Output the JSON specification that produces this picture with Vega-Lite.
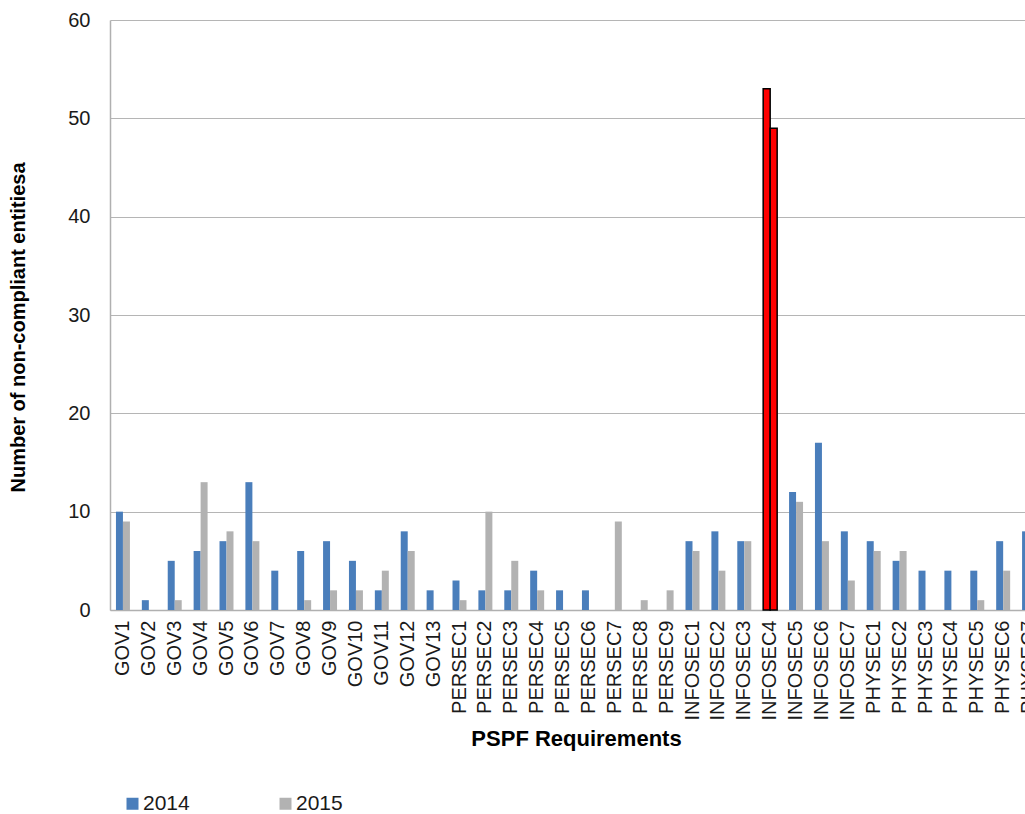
{
  "$schema": "https://vega.github.io/schema/vega-lite/v6.json",
  "autosize": "none",
  "padding": {"left": 110, "top": 20, "right": 0, "bottom": 204},
  "width": 932,
  "height": 590,
  "background": "white",
  "config": {
    "font": "Liberation Sans",
    "view": {"stroke": null},
    "axis": {"labelFont": "Liberation Sans", "titleFont": "Liberation Sans", "labelColor": "#1a1a1a", "titleColor": "#000000"}
  },
  "data": {
    "values": [
      {"req": "GOV1", "year": "2014", "count": 10}, {"req": "GOV1", "year": "2015", "count": 9},
      {"req": "GOV2", "year": "2014", "count": 1}, {"req": "GOV2", "year": "2015", "count": 0},
      {"req": "GOV3", "year": "2014", "count": 5}, {"req": "GOV3", "year": "2015", "count": 1},
      {"req": "GOV4", "year": "2014", "count": 6}, {"req": "GOV4", "year": "2015", "count": 13},
      {"req": "GOV5", "year": "2014", "count": 7}, {"req": "GOV5", "year": "2015", "count": 8},
      {"req": "GOV6", "year": "2014", "count": 13}, {"req": "GOV6", "year": "2015", "count": 7},
      {"req": "GOV7", "year": "2014", "count": 4}, {"req": "GOV7", "year": "2015", "count": 0},
      {"req": "GOV8", "year": "2014", "count": 6}, {"req": "GOV8", "year": "2015", "count": 1},
      {"req": "GOV9", "year": "2014", "count": 7}, {"req": "GOV9", "year": "2015", "count": 2},
      {"req": "GOV10", "year": "2014", "count": 5}, {"req": "GOV10", "year": "2015", "count": 2},
      {"req": "GOV11", "year": "2014", "count": 2}, {"req": "GOV11", "year": "2015", "count": 4},
      {"req": "GOV12", "year": "2014", "count": 8}, {"req": "GOV12", "year": "2015", "count": 6},
      {"req": "GOV13", "year": "2014", "count": 2}, {"req": "GOV13", "year": "2015", "count": 0},
      {"req": "PERSEC1", "year": "2014", "count": 3}, {"req": "PERSEC1", "year": "2015", "count": 1},
      {"req": "PERSEC2", "year": "2014", "count": 2}, {"req": "PERSEC2", "year": "2015", "count": 10},
      {"req": "PERSEC3", "year": "2014", "count": 2}, {"req": "PERSEC3", "year": "2015", "count": 5},
      {"req": "PERSEC4", "year": "2014", "count": 4}, {"req": "PERSEC4", "year": "2015", "count": 2},
      {"req": "PERSEC5", "year": "2014", "count": 2}, {"req": "PERSEC5", "year": "2015", "count": 0},
      {"req": "PERSEC6", "year": "2014", "count": 2}, {"req": "PERSEC6", "year": "2015", "count": 0},
      {"req": "PERSEC7", "year": "2014", "count": 0}, {"req": "PERSEC7", "year": "2015", "count": 9},
      {"req": "PERSEC8", "year": "2014", "count": 0}, {"req": "PERSEC8", "year": "2015", "count": 1},
      {"req": "PERSEC9", "year": "2014", "count": 0}, {"req": "PERSEC9", "year": "2015", "count": 2},
      {"req": "INFOSEC1", "year": "2014", "count": 7}, {"req": "INFOSEC1", "year": "2015", "count": 6},
      {"req": "INFOSEC2", "year": "2014", "count": 8}, {"req": "INFOSEC2", "year": "2015", "count": 4},
      {"req": "INFOSEC3", "year": "2014", "count": 7}, {"req": "INFOSEC3", "year": "2015", "count": 7},
      {"req": "INFOSEC4", "year": "2014", "count": 53}, {"req": "INFOSEC4", "year": "2015", "count": 49},
      {"req": "INFOSEC5", "year": "2014", "count": 12}, {"req": "INFOSEC5", "year": "2015", "count": 11},
      {"req": "INFOSEC6", "year": "2014", "count": 17}, {"req": "INFOSEC6", "year": "2015", "count": 7},
      {"req": "INFOSEC7", "year": "2014", "count": 8}, {"req": "INFOSEC7", "year": "2015", "count": 3},
      {"req": "PHYSEC1", "year": "2014", "count": 7}, {"req": "PHYSEC1", "year": "2015", "count": 6},
      {"req": "PHYSEC2", "year": "2014", "count": 5}, {"req": "PHYSEC2", "year": "2015", "count": 6},
      {"req": "PHYSEC3", "year": "2014", "count": 4}, {"req": "PHYSEC3", "year": "2015", "count": 0},
      {"req": "PHYSEC4", "year": "2014", "count": 4}, {"req": "PHYSEC4", "year": "2015", "count": 0},
      {"req": "PHYSEC5", "year": "2014", "count": 4}, {"req": "PHYSEC5", "year": "2015", "count": 1},
      {"req": "PHYSEC6", "year": "2014", "count": 7}, {"req": "PHYSEC6", "year": "2015", "count": 4},
      {"req": "PHYSEC7", "year": "2014", "count": 8}, {"req": "PHYSEC7", "year": "2015", "count": 4}
    ]
  },
  "mark": {"type": "bar", "strokeWidth": 1.5},
  "encoding": {
    "x": {
      "field": "req", "type": "nominal", "sort": null,
      "scale": {"paddingInner": 0.46, "paddingOuter": 0.23},
      "axis": {
        "title": "PSPF Requirements", "titleFontSize": 22, "titleFontWeight": "bold",
        "titlePadding": 8,
        "labelAngle": -90, "labelFontSize": 20, "labelPadding": 10, "labelLimit": 200,
        "ticks": false, "domainColor": "#B0B0B0", "domainWidth": 1.5
      }
    },
    "xOffset": {"field": "year", "type": "nominal"},
    "y": {
      "field": "count", "type": "quantitative",
      "scale": {"domain": [0, 60]},
      "axis": {
        "title": "Number of non-compliant entitiesa", "titleFontSize": 20, "titleFontWeight": "bold",
        "titlePadding": 39, "titleY": 307,
        "values": [0, 10, 20, 30, 40, 50, 60],
        "labelFontSize": 20, "labelPadding": 20, "ticks": false,
        "gridColor": "#B5B5B5", "gridWidth": 1,
        "domainColor": "#B0B0B0", "domainWidth": 1.5
      }
    },
    "color": {
      "condition": {"test": "datum.req === 'INFOSEC4'", "value": "#FF0000"},
      "field": "year", "type": "nominal",
      "scale": {"domain": ["2014", "2015"], "range": ["#4A7EBB", "#B2B2B2"]},
      "legend": {
        "title": null, "orient": "none", "legendX": 12, "legendY": 773,
        "direction": "horizontal", "columns": 2, "columnPadding": 85,
        "symbolType": "square", "symbolSize": 144, "symbolStrokeWidth": 0,
        "labelFontSize": 21, "labelFont": "Liberation Sans", "labelColor": "#1a1a1a", "labelOffset": 0
      }
    },
    "stroke": {
      "condition": {"test": "datum.req === 'INFOSEC4'", "value": "#000000"},
      "value": null
    }
  }
}
